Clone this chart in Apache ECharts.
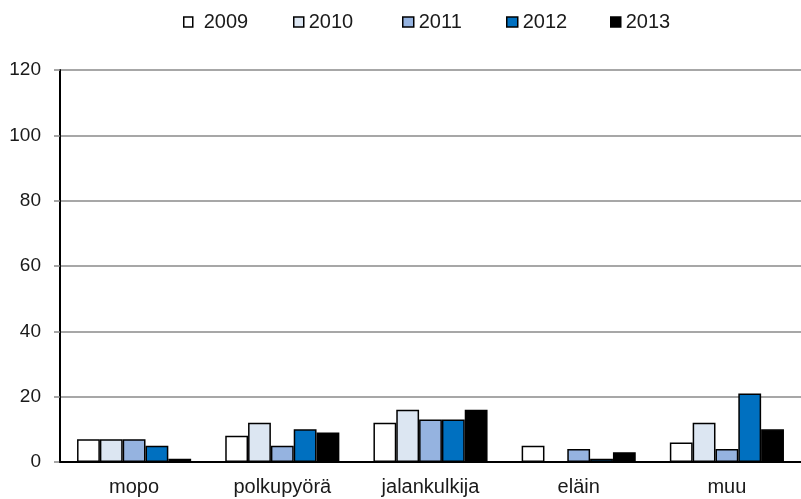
<!DOCTYPE html>
<html>
<head>
<meta charset="utf-8">
<script src="https://cdn.jsdelivr.net/npm/echarts@6/dist/echarts.min.js"></script>
<style>html,body{margin:0;padding:0;background:#fff;}#c{width:801px;height:499px;}</style>
</head>
<body>
<div id="c"></div>
<script>
const categories = ['mopo', 'polkupyörä', 'jalankulkija', 'eläin', 'muu'];
const years = ['2009', '2010', '2011', '2012', '2013'];
const v2009 = [7, 8, 12, 5, 6];
const v2010 = [7, 12, 16, 0, 12];
const v2011 = [7, 5, 13, 4, 4];
const v2012 = [5, 10, 13, 1, 21];
const v2013 = [1, 9, 16, 3, 10];
const seriesValues = [v2009, v2010, v2011, v2012, v2013];
const colors = ['#ffffff', '#dce6f2', '#95b3e0', '#0070c0', '#000000'];
const yTicks = [0, 20, 40, 60, 80, 100, 120];

const legendLeft = [183, 293, 402, 506, 610];
const legendPad = [6, 0, 0, 0, 0];
const legendIconW = [9, 10, 11, 11, 10];

const chart = echarts.init(document.getElementById('c'), null, {renderer: 'canvas'});
const font = 'Liberation Sans, Arial, sans-serif';
chart.setOption({
  animation: false,
  backgroundColor: '#fff',
  textStyle: {fontFamily: font},
  legend: years.map((y, i) => ({
    top: 12,
    left: legendLeft[i],
    padding: 0,
    itemWidth: legendIconW[i],
    itemHeight: 10,
    icon: 'rect',
    textStyle: {fontSize: 20, color: '#1a1a1a', fontFamily: font, padding: [0, 0, 0, legendPad[i]]},
    itemStyle: {borderColor: '#000', borderWidth: 1.5},
    data: [y]
  })),
  grid: {left: 60, top: 70, width: 747, height: 392, containLabel: false},
  xAxis: {
    type: 'category',
    data: categories,
    axisLine: {show: true, lineStyle: {color: '#000', width: 2}},
    axisTick: {show: false},
    axisLabel: {fontSize: 20, color: '#1a1a1a', margin: 15, fontFamily: font},
    z: 10
  },
  yAxis: {
    type: 'value',
    min: 0,
    max: 120,
    interval: 20,
    axisLine: {show: true, lineStyle: {color: '#000', width: 2}},
    axisTick: {show: true, length: 6, lineStyle: {color: '#888', width: 1.5}},
    axisLabel: {fontSize: 19, color: '#1a1a1a', margin: 19, fontFamily: font,
      formatter: v => yTicks.includes(v) ? String(v) : ''},
    splitLine: {show: true, lineStyle: {color: '#8a8a8a', width: 1.5}}
  },
  series: years.map((y, i) => ({
    name: y,
    type: 'bar',
    data: seriesValues[i],
    barGap: '0%',
    barCategoryGap: '23%',
    itemStyle: {color: colors[i], borderColor: '#000', borderWidth: 1.5}
  }))
});
</script>
</body>
</html>
